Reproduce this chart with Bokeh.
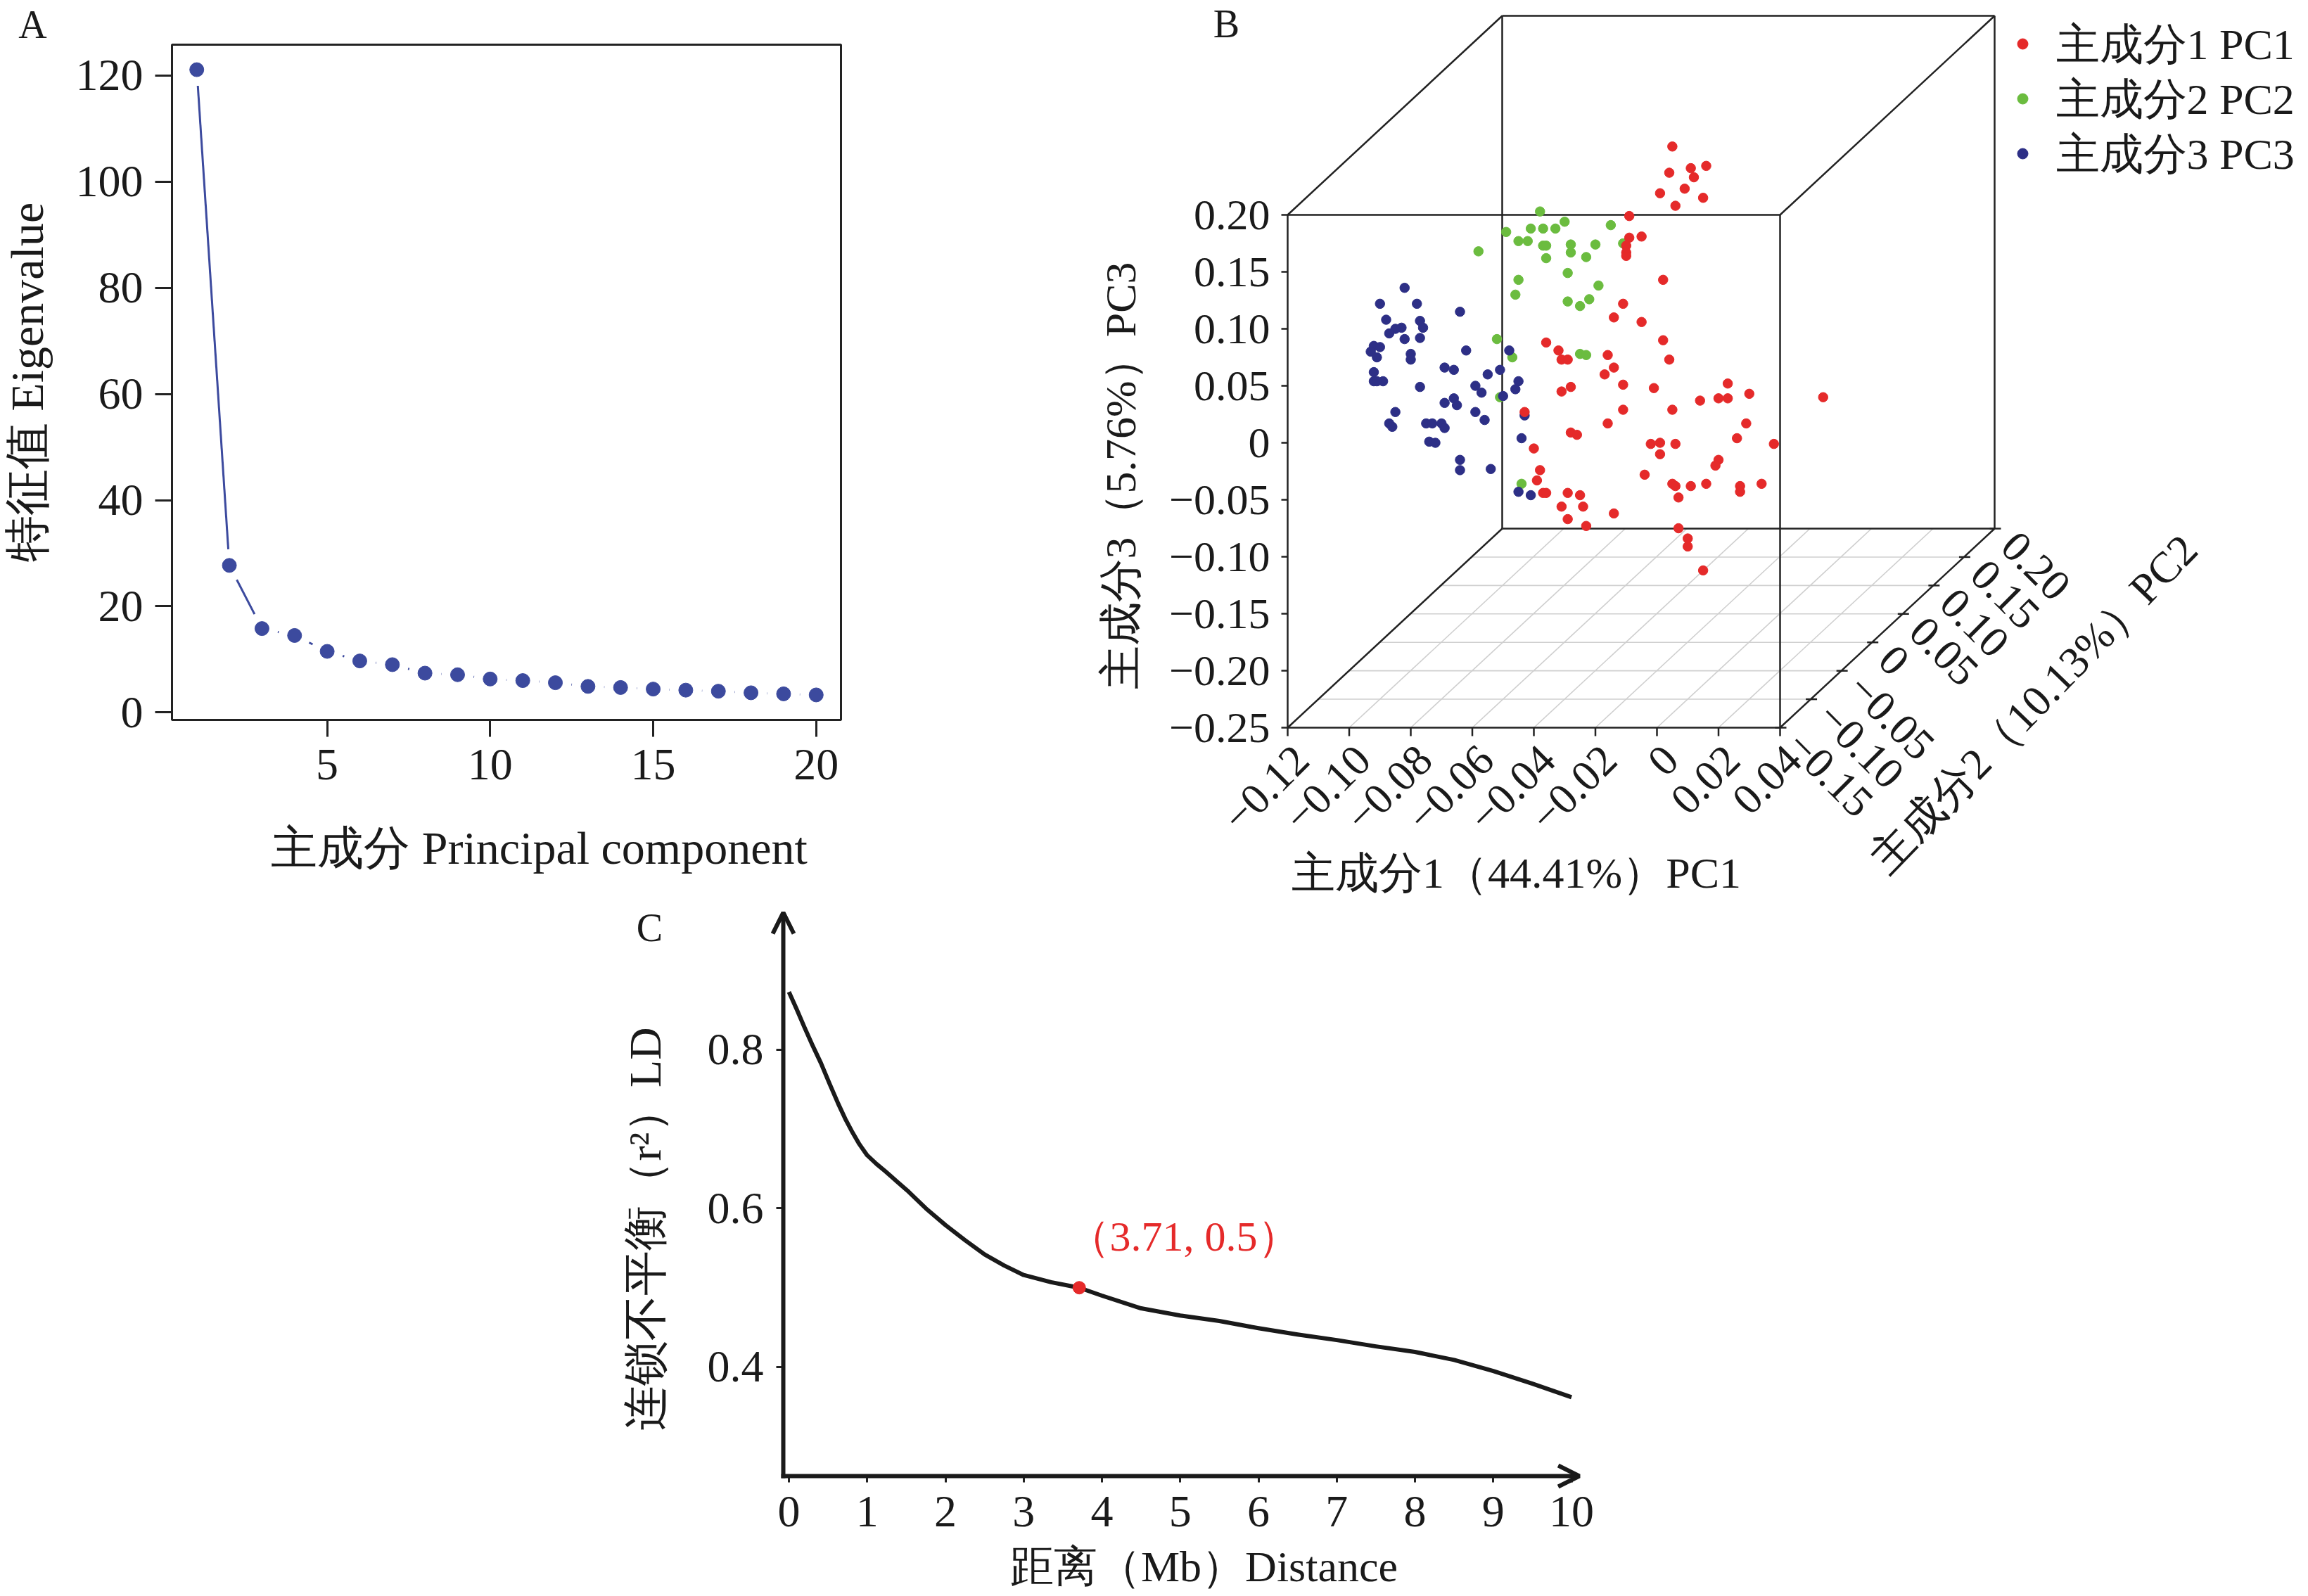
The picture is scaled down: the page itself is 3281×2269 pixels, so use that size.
import math
from bokeh.plotting import figure
from bokeh.layouts import row, column
from bokeh.models import Range1d, Label, Arrow, OpenHead, FixedTicker
from bokeh.core.properties import value
from bokeh.embed import file_html
from bokeh.resources import INLINE

FONT = "Liberation Serif"
INK = "#1a1a1a"

# ---------------- Panel A data: scree plot ----------------
pc_index = list(range(1, 21))
eigenvalues = [121.1, 27.7, 15.8, 14.5, 11.5, 9.7, 9.0, 7.4, 7.1, 6.3,
               6.0, 5.6, 4.9, 4.7, 4.4, 4.2, 4.0, 3.7, 3.5, 3.3]
a_xticks = [5, 10, 15, 20]
a_yticks = [0, 20, 40, 60, 80, 100, 120]

# ---------------- Panel B data: 3D PCA scatter (positions as displayed) ----------------
pc1_ticks = [-0.12, -0.10, -0.08, -0.06, -0.04, -0.02, 0.0, 0.02, 0.04]
pc2_ticks = [-0.15, -0.10, -0.05, 0.0, 0.05, 0.10, 0.15, 0.20]
pc3_ticks = [-0.25, -0.20, -0.15, -0.10, -0.05, 0.0, 0.05, 0.10, 0.15, 0.20]

red_pc1 = [0.005, 0.004, 0.011, 0.016, 0.012, 0.001, 0.009, 0.015, 0.006, -0.009,
           -0.009, -0.005, -0.010, -0.010, -0.010, 0.002, -0.011, -0.014, -0.005, 0.002,
           -0.036, -0.032, -0.031, -0.029, -0.016, 0.004, -0.014, -0.017, -0.011, -0.001,
           -0.031, -0.028, 0.023, 0.014, 0.020, 0.023, 0.030, 0.054, -0.011, 0.005,
           -0.043, -0.016, 0.029, -0.028, -0.026, 0.026, -0.002, 0.001, 0.006, 0.038,
           -0.040, 0.001, 0.020, 0.019, -0.038, -0.039, -0.004, 0.005, 0.006, 0.011,
           0.016, 0.027, 0.027, 0.034, -0.037, -0.036, -0.029, -0.025, 0.007, -0.031,
           -0.024, -0.014, -0.029, -0.023, 0.007, 0.010, 0.010, 0.015]
red_pc3 = [0.260, 0.237, 0.241, 0.243, 0.233, 0.219, 0.223, 0.215, 0.208, 0.199,
           0.180, 0.181, 0.173, 0.167, 0.164, 0.143, 0.122, 0.110, 0.106, 0.090,
           0.088, 0.081, 0.073, 0.073, 0.077, 0.073, 0.066, 0.060, 0.051, 0.048,
           0.045, 0.049, 0.052, 0.037, 0.039, 0.039, 0.043, 0.040, 0.029, 0.029,
           0.027, 0.017, 0.017, 0.009, 0.007, 0.004, -0.001, 0.000, -0.001, -0.001,
           -0.005, -0.010, -0.015, -0.020, -0.024, -0.033, -0.028, -0.036, -0.038, -0.038,
           -0.036, -0.038, -0.043, -0.036, -0.044, -0.044, -0.044, -0.046, -0.048, -0.056,
           -0.056, -0.062, -0.067, -0.073, -0.075, -0.084, -0.091, -0.112]

green_pc1 = [-0.038, -0.030, -0.041, -0.037, -0.033, -0.049, -0.045, -0.042, -0.037, -0.036,
             -0.028, -0.020, -0.058, -0.028, -0.036, -0.023, -0.029, -0.045, -0.019, -0.046,
             -0.029, -0.022, -0.025, -0.052, -0.047, -0.025, -0.023, -0.051, -0.044, -0.015,
             -0.011]
green_pc3 = [0.203, 0.194, 0.188, 0.188, 0.188, 0.185, 0.177, 0.177, 0.173, 0.173,
             0.174, 0.174, 0.168, 0.167, 0.162, 0.163, 0.149, 0.143, 0.138, 0.130,
             0.124, 0.126, 0.120, 0.091, 0.075, 0.078, 0.077, 0.040, -0.036, 0.191,
             0.175]

navy_pc1 = [-0.082, -0.090, -0.078, -0.064, -0.088, -0.077, -0.076, -0.083, -0.085, -0.087,
            -0.077, -0.082, -0.092, -0.090, -0.093, -0.091, -0.062, -0.080, -0.080, -0.048,
            -0.069, -0.066, -0.051, -0.055, -0.092, -0.092, -0.089, -0.091, -0.045, -0.046,
            -0.077, -0.059, -0.057, -0.050, -0.066, -0.069, -0.065, -0.085, -0.059, -0.056,
            -0.043, -0.087, -0.086, -0.075, -0.073, -0.070, -0.069, -0.074, -0.072, -0.044,
            -0.064, -0.064, -0.054, -0.045, -0.041]
navy_pc3 = [0.136, 0.122, 0.122, 0.115, 0.108, 0.107, 0.101, 0.101, 0.100, 0.096,
            0.092, 0.091, 0.085, 0.084, 0.080, 0.075, 0.081, 0.078, 0.073, 0.081,
            0.066, 0.064, 0.064, 0.060, 0.062, 0.054, 0.054, 0.054, 0.054, 0.047,
            0.049, 0.050, 0.044, 0.041, 0.039, 0.035, 0.033, 0.027, 0.027, 0.020,
            0.024, 0.017, 0.014, 0.017, 0.017, 0.017, 0.013, 0.001, 0.000, 0.004,
            -0.015, -0.024, -0.023, -0.043, -0.046]

legend_labels = ["主成分1 PC1", "主成分2 PC2", "主成分3 PC3"]

# ---------------- Panel C data: LD decay ----------------
ld_distance = [0.0, 0.1, 0.2, 0.3, 0.41, 0.52, 0.63, 0.72, 0.8, 0.9, 1.0, 1.12, 1.23, 1.38,
               1.53, 1.75, 2.0, 2.25, 2.5, 2.75, 3.0, 3.35, 3.71,
               4.0, 4.5, 5.0, 5.5, 6.0, 6.5, 7.0, 7.5, 8.0, 8.5, 9.0, 9.5, 10.0]
ld_r2 = [0.873, 0.851, 0.828, 0.806, 0.783, 0.757, 0.732, 0.713, 0.698, 0.681, 0.667, 0.656,
         0.647, 0.634, 0.621, 0.600, 0.579, 0.560, 0.542, 0.528, 0.516, 0.507, 0.500,
         0.490, 0.474, 0.465, 0.458, 0.449, 0.441, 0.434, 0.426, 0.419, 0.409, 0.395, 0.379, 0.362]
half_decay_x = [3.71]
half_decay_y = [0.5]
c_xticks = [0, 1, 2, 3, 4, 5, 6, 7, 8, 9, 10]
c_yticks = [0.4, 0.6, 0.8]

BLUE_A = "#3C4A9E"
RED = "#E52A2A"
GREEN = "#6BBC3F"
NAVY = "#2D2F86"


class Conv:
    """page-pixel <-> data conversion for a figure whose frame fills its canvas"""
    def __init__(self, left, top, w, h, xr, yr):
        self.l, self.t, self.w, self.h = left, top, w, h
        self.x0, self.x1 = xr
        self.y0, self.y1 = yr
        self.kx = w / (self.x1 - self.x0)
        self.ky = h / (self.y1 - self.y0)

    def x(self, X):
        return self.x0 + (X - self.l) / self.kx

    def y(self, Y):
        return self.y0 + (self.t + self.h - Y) / self.ky

    def sx(self, x):
        return self.l + (x - self.x0) * self.kx

    def sy(self, y):
        return self.t + self.h - (y - self.y0) * self.ky


def canvas_ranges(left, top, w, h, anchor_px, anchor_val, kx, ky):
    """ranges of a canvas-filling frame, given one page point and its data value"""
    (AX, AY), (ax_, ay_) = anchor_px, anchor_val
    x0 = ax_ - (AX - left) / kx
    y1 = ay_ + (AY - top) / ky
    return (x0, x0 + w / kx), (y1 - h / ky, y1)


def pad(lo, hi, f=0.04):
    d = (hi - lo) * f
    return lo - d, hi + d


def lab(conv, X, Y, text, size, **kw):
    kw.setdefault("text_align", "center")
    kw.setdefault("text_baseline", "middle")
    return Label(x=conv.x(X), y=conv.y(Y), text=text, text_font=FONT,
                 text_font_size=size, text_color=kw.pop("color", INK), **kw)


def style_axis(ax, tick_out, size="64px"):
    ax.axis_line_color = None
    ax.major_tick_line_color = "#222222"
    ax.major_tick_line_width = 3
    ax.major_tick_out = tick_out
    ax.major_tick_in = 0
    ax.minor_tick_line_color = None
    ax.major_label_text_font = FONT
    ax.major_label_text_font_size = size
    ax.major_label_text_color = INK


PAGE_W, PAGE_H = 3281, 2268
ROW1_H = 1280
SPLIT_X = 1260

# ======================= Panel A =======================
A_L, A_T, A_W, A_H = 0, 0, SPLIT_X, ROW1_H
BOX_L, BOX_T, BOX_W, BOX_H = 244, 63, 951, 960     # page position of the R plot box
xpadA = pad(min(pc_index), max(pc_index))
ypadA = pad(min(eigenvalues), max(eigenvalues))
kxA = BOX_W / (xpadA[1] - xpadA[0])
kyA = BOX_H / (ypadA[1] - ypadA[0])
xrA, yrA = canvas_ranges(A_L, A_T, A_W, A_H, (BOX_L, BOX_T), (xpadA[0], ypadA[1]), kxA, kyA)
cA = Conv(A_L, A_T, A_W, A_H, xrA, yrA)

pA = figure(width=A_W, height=A_H, x_range=Range1d(*xrA), y_range=Range1d(*yrA),
            output_backend="svg", toolbar_location=None, min_border=0)
pA.grid.visible = False
pA.outline_line_color = None
pA.xaxis.ticker = FixedTicker(ticks=a_xticks)
pA.yaxis.ticker = FixedTicker(ticks=a_yticks)
pA.xaxis.fixed_location = ypadA[0]
pA.yaxis.fixed_location = xpadA[0]
style_axis(pA.xaxis[0], 24)
style_axis(pA.yaxis[0], 24)
pA.xaxis.major_label_standoff = 18
pA.yaxis.major_label_standoff = 17

pA.quad(left=[xpadA[0]], right=[xpadA[1]], bottom=[ypadA[0]], top=[ypadA[1]],
        fill_color=None, line_color="#222222", line_width=3)

# R type="b": line segments with a gap around each point
GAP = 23
sx0, sy0, sx1, sy1 = [], [], [], []
for i in range(len(pc_index) - 1):
    X0, Y0 = cA.sx(pc_index[i]), cA.sy(eigenvalues[i])
    X1, Y1 = cA.sx(pc_index[i + 1]), cA.sy(eigenvalues[i + 1])
    L = math.hypot(X1 - X0, Y1 - Y0)
    if L > 2 * GAP:
        ux, uy = (X1 - X0) / L, (Y1 - Y0) / L
        sx0.append(cA.x(X0 + ux * GAP)); sy0.append(cA.y(Y0 + uy * GAP))
        sx1.append(cA.x(X1 - ux * GAP)); sy1.append(cA.y(Y1 - uy * GAP))
pA.segment(x0=sx0, y0=sy0, x1=sx1, y1=sy1, line_color=BLUE_A, line_width=3)
pA.scatter(pc_index, eigenvalues, size=20, fill_color=BLUE_A, line_color=BLUE_A)

pA.add_layout(lab(cA, 766, 1205, "主成分 Principal component", "66px"))
pA.add_layout(lab(cA, 38, 543, "特征值 Eigenvalue", "66px", angle=math.pi / 2))
pA.add_layout(lab(cA, 46, 34, "A", "56px"))

# ======================= Panel B =======================
B_L, B_T, B_W, B_H = SPLIT_X, 0, PAGE_W - SPLIT_X, ROW1_H
KX_B, KY_B = 4375.0, 1620.0          # px per PC1 unit, px per PC3 unit (front face)
FACE_L, FACE_T = 1830, 305           # page position of front face top-left
DEPTH_PX = (305, -283)               # page offset from front to back face
xrB, yrB = canvas_ranges(B_L, B_T, B_W, B_H, (FACE_L, FACE_T),
                         (pc1_ticks[0], pc3_ticks[-1]), KX_B, KY_B)
cB = Conv(B_L, B_T, B_W, B_H, xrB, yrB)

pB = figure(width=B_W, height=B_H, x_range=Range1d(*xrB), y_range=Range1d(*yrB),
            x_axis_type=None, y_axis_type=None, output_backend="svg",
            toolbar_location=None, min_border=0)
pB.outline_line_color = None

p1min, p1max = pc1_ticks[0], pc1_ticks[-1]
p2min, p2max = pc2_ticks[0], pc2_ticks[-1]
p3min, p3max = pc3_ticks[0], pc3_ticks[-1]
DXB = DEPTH_PX[0] / KX_B
DYB = -DEPTH_PX[1] / KY_B


def proj(a, b, c):
    t = (b - p2min) / (p2max - p2min)
    return a + t * DXB, c + t * DYB


# floor grid
gx, gy = [], []
for a in pc1_ticks:
    (x0, y0), (x1, y1) = proj(a, p2min, p3min), proj(a, p2max, p3min)
    gx.append([x0, x1]); gy.append([y0, y1])
for b in pc2_ticks:
    (x0, y0), (x1, y1) = proj(p1min, b, p3min), proj(p1max, b, p3min)
    gx.append([x0, x1]); gy.append([y0, y1])
pB.multi_line(gx, gy, line_color="#cfcfcf", line_width=1.6)

# box edges
corners = {}
for a in (p1min, p1max):
    for b in (p2min, p2max):
        for c in (p3min, p3max):
            corners[(a, b, c)] = proj(a, b, c)
ex, ey = [], []
keys = list(corners.keys())
for i in range(len(keys)):
    for j in range(i + 1, len(keys)):
        k1, k2 = keys[i], keys[j]
        if sum(1 for u, v in zip(k1, k2) if u != v) == 1:
            ex.append([corners[k1][0], corners[k2][0]])
            ey.append([corners[k1][1], corners[k2][1]])
pB.multi_line(ex, ey, line_color="#222222", line_width=2.5)

# ticks
tx, ty = [], []
for a in pc1_ticks:
    x0, y0 = proj(a, p2min, p3min)
    tx.append([x0, x0]); ty.append([y0, y0 - 12 / KY_B])
for c in pc3_ticks:
    x0, y0 = proj(p1min, p2min, c)
    tx.append([x0, x0 - 9 / KX_B]); ty.append([y0, y0])
for b in pc2_ticks:
    x0, y0 = proj(p1max, b, p3min)
    tx.append([x0 - 7 / KX_B, x0 + 9 / KX_B]); ty.append([y0, y0])
pB.multi_line(tx, ty, line_color="#222222", line_width=2.5)


def fmt(v):
    if abs(v) < 1e-12:
        return "0"
    return ("%.2f" % v).replace("-", "\u2212")


TICK_B = "62px"
pB.text(x=[proj(p1min, p2min, c)[0] - 25 / KX_B for c in pc3_ticks],
        y=[proj(p1min, p2min, c)[1] for c in pc3_ticks],
        text=[fmt(c) for c in pc3_ticks], text_align="right", text_baseline="middle",
        text_font=value(FONT), text_font_size=TICK_B, text_color=INK)
pB.text(x=[proj(a, p2min, p3min)[0] + 20 / KX_B for a in pc1_ticks],
        y=[proj(a, p2min, p3min)[1] - 36 / KY_B for a in pc1_ticks],
        text=[fmt(a) for a in pc1_ticks], angle=math.pi / 4,
        text_align="right", text_baseline="middle",
        text_font=value(FONT), text_font_size=TICK_B, text_color=INK)
pB.text(x=[proj(p1max, b, p3min)[0] + 20 / KX_B for b in pc2_ticks],
        y=[proj(p1max, b, p3min)[1] - 15 / KY_B for b in pc2_ticks],
        text=[fmt(b) for b in pc2_ticks], angle=-math.pi / 4,
        text_align="left", text_baseline="middle",
        text_font=value(FONT), text_font_size=TICK_B, text_color=INK)

# points
PT = 13.5
pB.scatter(green_pc1, green_pc3, size=PT, fill_color=GREEN, line_color=GREEN)
pB.scatter(navy_pc1, navy_pc3, size=PT, fill_color=NAVY, line_color=NAVY)
pB.scatter(red_pc1, red_pc3, size=PT, fill_color=RED, line_color=RED)

# titles
pB.add_layout(lab(cB, 2155, 1240, "主成分1（44.41%）PC1", "62px"))
pB.add_layout(lab(cB, 1592, 676, "主成分3（5.76%）PC3", "62px", angle=math.pi / 2))
pB.add_layout(lab(cB, 2890, 1000, "主成分2（10.13%）PC2", "62px", angle=math.radians(46)))
pB.add_layout(lab(cB, 1743, 33, "B", "56px"))

# legend
leg_y = [62, 140, 218]
leg_col = [RED, GREEN, NAVY]
pB.scatter([cB.x(2875)] * 3, [cB.y(v) for v in leg_y], size=15,
           fill_color=leg_col, line_color=leg_col)
pB.text(x=[cB.x(2922)] * 3, y=[cB.y(v) for v in leg_y], text=legend_labels,
        text_align="left", text_baseline="middle", text_font=value(FONT),
        text_font_size="62px", text_color=INK)

# ======================= Panel C =======================
C_L, C_T, C_W, C_H = 0, ROW1_H, PAGE_W, PAGE_H - ROW1_H
KX_C, KY_C = 111.25, 1127.5
xC0, yC0 = -0.072, 0.2625            # where the two axis arrows meet
ORIGIN_PX = (1113, 2098)
xrC, yrC = canvas_ranges(C_L, C_T, C_W, C_H, ORIGIN_PX, (xC0, yC0), KX_C, KY_C)
cC = Conv(C_L, C_T, C_W, C_H, xrC, yrC)

pC = figure(width=C_W, height=C_H, x_range=Range1d(*xrC), y_range=Range1d(*yrC),
            output_backend="svg", toolbar_location=None, min_border=0)
pC.grid.visible = False
pC.outline_line_color = None
pC.xaxis.ticker = FixedTicker(ticks=c_xticks)
pC.yaxis.ticker = FixedTicker(ticks=c_yticks)
pC.xaxis.fixed_location = yC0
pC.yaxis.fixed_location = xC0
style_axis(pC.xaxis[0], 9)
style_axis(pC.yaxis[0], 10)
pC.xaxis.major_label_standoff = 20
pC.yaxis.major_label_standoff = 18

x_arrow_end = 10.1
y_arrow_end = 0.973
pC.add_layout(Arrow(end=OpenHead(size=30, line_width=6, line_color=INK),
                    x_start=xC0 - 3 / KX_C, y_start=yC0, x_end=x_arrow_end, y_end=yC0,
                    line_width=6, line_color=INK))
pC.add_layout(Arrow(end=OpenHead(size=30, line_width=6, line_color=INK),
                    x_start=xC0, y_start=yC0 - 3 / KY_C, x_end=xC0, y_end=y_arrow_end,
                    line_width=6, line_color=INK))

pC.line(ld_distance, ld_r2, line_width=6, line_color=INK, line_join="round")
pC.scatter(half_decay_x, half_decay_y, size=18, fill_color=RED, line_color=RED)
pC.add_layout(lab(cC, 1682, 1757, "（%.2f, %.1f）" % (half_decay_x[0], half_decay_y[0]),
                  "60px", color=RED))

pC.add_layout(lab(cC, 917, 1747, "连锁不平衡（r²）LD", "64px", angle=math.pi / 2))
pC.add_layout(lab(cC, 1711, 2226, "距离（Mb）Distance", "62px"))
pC.add_layout(lab(cC, 923, 1318, "C", "56px"))

layout = column(row(pA, pB), pC)
open("out.html", "w").write(file_html(layout, INLINE))
